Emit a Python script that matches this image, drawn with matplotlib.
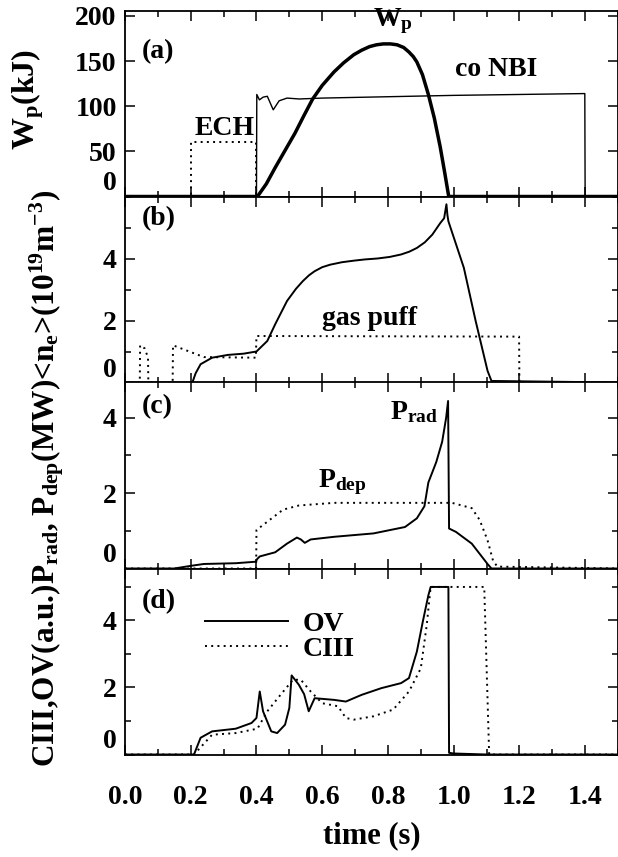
import matplotlib
matplotlib.use('Agg')
import matplotlib.pyplot as plt
from matplotlib.ticker import MultipleLocator

# (a) stored energy, NBI and ECH
t_wp = [0, 0.40, 0.403, 0.43, 0.457, 0.487, 0.517, 0.545, 0.571, 0.60, 0.636, 0.665,
        0.696, 0.72, 0.744, 0.765, 0.786, 0.808, 0.828, 0.848, 0.864, 0.877, 0.888,
        0.905, 0.923, 0.941, 0.959, 0.972, 0.985, 1.5]
wp = [0, 0, 0, 14, 32, 51, 70, 90, 108, 123, 138, 148, 157, 162, 166, 168, 169, 169,
      168, 165, 160, 155, 149, 135, 113, 87, 55, 28, 0, 0]

t_nbi = [0, 0.40, 0.401, 0.409, 0.42, 0.433, 0.451, 0.469, 0.493, 0.53, 0.6, 1.0, 1.399, 1.40, 1.5]
nbi = [0, 0, 113, 107, 110, 111, 96, 106, 109, 108, 109, 112, 114, 0, 0]

t_ech = [0, 0.2, 0.2, 0.4, 0.4, 1.5]
ech = [0, 0, 60, 60, 0, 0]

# (b) line density and gas puff
t_ne = [0, 0.205, 0.215, 0.23, 0.265, 0.313, 0.361, 0.40, 0.433, 0.457, 0.493, 0.52,
        0.541, 0.56, 0.577, 0.6, 0.624, 0.66, 0.696, 0.73, 0.768, 0.805, 0.84, 0.865,
        0.888, 0.912, 0.935, 0.959, 0.971, 0.978, 0.981, 0.984, 1.031, 1.067, 1.103,
        1.115, 1.5]
ne = [0, 0, 0.3, 0.59, 0.80, 0.89, 0.93, 1.0, 1.34, 1.88, 2.63, 3.02, 3.27, 3.46,
      3.59, 3.72, 3.80, 3.88, 3.93, 3.97, 4.0, 4.05, 4.13, 4.22, 4.34, 4.52, 4.77,
      5.14, 5.3, 5.75, 5.4, 5.2, 3.7, 1.98, 0.38, 0.05, 0]

t_gas = [0, 0.045, 0.046, 0.06, 0.07, 0.071, 0.145, 0.146, 0.24, 0.398, 0.40,
         1.199, 1.20, 1.5]
gas = [0, 0, 1.2, 1.1, 0.8, 0, 0, 1.2, 0.82, 0.8, 1.5, 1.48, 0, 0]

# (c) radiated and deposited power
t_rad = [0, 0.15, 0.2, 0.24, 0.337, 0.398, 0.402, 0.41, 0.457, 0.493, 0.523, 0.535,
         0.547, 0.565, 0.636, 0.756, 0.852, 0.888, 0.911, 0.923, 0.947, 0.965, 0.977,
         0.983, 0.986, 1.007, 1.055, 1.103, 1.115, 1.5]
prad = [0, 0, 0.07, 0.12, 0.14, 0.18, 0.25, 0.32, 0.43, 0.66, 0.82, 0.77, 0.68, 0.77,
        0.84, 0.93, 1.1, 1.33, 1.65, 2.28, 2.82, 3.36, 3.99, 4.44, 1.06, 0.97, 0.66,
        0.12, 0, 0]

t_dep = [0, 0.399, 0.40, 0.433, 0.481, 0.529, 0.636, 0.816, 0.995, 1.055, 1.079,
         1.103, 1.12, 1.133, 1.5]
pdep = [0, 0, 1.02, 1.24, 1.56, 1.67, 1.74, 1.74, 1.74, 1.6, 1.29, 0.75, 0.2, 0.05, 0]

# (d) impurity lines
t_ov = [0, 0.21, 0.23, 0.265, 0.337, 0.385, 0.40, 0.41, 0.42, 0.445, 0.463, 0.487,
        0.50, 0.507, 0.529, 0.545, 0.559, 0.577, 0.636, 0.672, 0.72, 0.78, 0.84,
        0.864, 0.888, 0.906, 0.923, 0.93, 0.984, 0.986, 1.0, 1.1, 1.5]
ov = [0, 0, 0.5, 0.69, 0.77, 0.94, 1.09, 1.88, 1.29, 0.69, 0.64, 0.89, 1.39, 2.36,
      2.08, 1.8, 1.29, 1.68, 1.63, 1.58, 1.78, 1.98, 2.13, 2.28, 3.07, 3.96, 4.75,
      5.0, 5.0, 0.05, 0.03, 0, 0]

t_c3 = [0, 0.21, 0.265, 0.337, 0.403, 0.433, 0.469, 0.511, 0.535, 0.565, 0.6, 0.648,
        0.672, 0.696, 0.756, 0.816, 0.864, 0.9, 0.918, 0.93, 1.093, 1.108, 1.5]
c3 = [0, 0, 0.59, 0.64, 0.77, 1.29, 1.73, 2.23, 2.23, 1.88, 1.53, 1.44, 1.09, 1.04,
      1.14, 1.34, 1.88, 2.57, 3.86, 5.0, 5.0, 0, 0]

plt.rcParams['font.family'] = 'Liberation Serif'
plt.rcParams['font.weight'] = 'bold'
plt.rcParams['axes.labelweight'] = 'bold'
plt.rcParams['mathtext.fontset'] = 'custom'
plt.rcParams['mathtext.rm'] = 'Liberation Serif:bold'
plt.rcParams['mathtext.default'] = 'rm'

FS = 20
dot = (0, (1, 2.2))

fig = plt.figure(figsize=(6.18, 8.57), dpi=100)
H = 857.0
left = 125 / 618.0
width = 1.0 - left
tops = [10.5, 196.5, 382.5, 568.5]
ph = 186.0
axes = [fig.add_axes([left, 1 - (tp + ph) / H, width, ph / H]) for tp in tops]
ax_a, ax_b, ax_c, ax_d = axes

ax_a.plot(t_ech, ech, color='black', lw=1.4, ls=dot)
ax_a.plot(t_nbi, nbi, color='black', lw=1.0)
ax_a.plot(t_wp, wp, color='black', lw=2.5)
ax_a.set_ylim(0, 206)
ax_a.set_yticks([0, 50, 100, 150, 200])
ax_a.text(0.05, 160, '(a)', fontsize=FS, va='center')
ax_a.text(0.816, 194, r'W$_\mathrm{p}$', fontsize=FS, ha='center', va='center')
ax_a.text(1.13, 141, 'co NBI', fontsize=FS, ha='center', va='center')
ax_a.text(0.304, 75, 'ECH', fontsize=FS, ha='center', va='center')
ax_a.set_ylabel(r'W$_\mathrm{p}$(kJ)', fontsize=23)

ax_b.plot(t_gas, gas, color='black', lw=1.4, ls=dot)
ax_b.plot(t_ne, ne, color='black', lw=1.4)
ax_b.set_ylim(0, 6)
ax_b.set_yticks([0, 2, 4])
ax_b.yaxis.set_minor_locator(MultipleLocator(1))
ax_b.text(0.05, 5.3, '(b)', fontsize=FS, va='center')
ax_b.text(0.744, 2.05, 'gas puff', fontsize=FS, ha='center', va='center')

ax_c.plot(t_dep, pdep, color='black', lw=1.4, ls=dot)
ax_c.plot(t_rad, prad, color='black', lw=1.4)
ax_c.set_ylim(0, 4.93)
ax_c.set_yticks([0, 2, 4])
ax_c.yaxis.set_minor_locator(MultipleLocator(1))
ax_c.text(0.05, 4.3, '(c)', fontsize=FS, va='center')
ax_c.text(0.88, 4.15, r'P$_\mathrm{rad}$', fontsize=FS, ha='center', va='center')
ax_c.text(0.66, 2.3, r'P$_\mathrm{dep}$', fontsize=FS, ha='center', va='center')

ax_d.plot(t_ov, ov, color='black', lw=1.4, label='OV')
ax_d.plot(t_c3, c3, color='black', lw=1.4, ls=dot, label='CIII')
ax_d.set_ylim(0, 5.55)
ax_d.set_yticks([0, 2, 4])
ax_d.yaxis.set_minor_locator(MultipleLocator(1))
ax_d.text(0.05, 4.55, '(d)', fontsize=FS, va='center')
ax_d.legend(loc='upper left', bbox_to_anchor=(0.14, 0.83), frameon=False,
            fontsize=FS, handlelength=3.0, handletextpad=0.5, labelspacing=0.0,
            borderaxespad=0)
ax_d.set_xlabel('time (s)', fontsize=22, labelpad=8)

fig.text(47 / 618.0, 1 - 478 / H,
         r'CIII,OV(a.u.)P$_\mathrm{rad}$, P$_\mathrm{dep}$(MW)<n$_\mathrm{e}$>(10$^{19}$m$^{-3}$)',
         rotation=90, fontsize=22.5, ha='center', va='center')

for ax in axes:
    ax.set_xlim(0, 1.5)
    ax.xaxis.set_major_locator(MultipleLocator(0.2))
    ax.xaxis.set_minor_locator(MultipleLocator(0.1))
    ax.tick_params(which='both', direction='in', top=True, right=True, width=1.1,
                   labelsize=FS)
    ax.tick_params(which='major', length=7)
    ax.tick_params(which='minor', length=4)
    ax.tick_params(axis='y', pad=6)
    for s in ax.spines.values():
        s.set_linewidth(1.3)
    ax.yaxis.get_major_ticks()[0].label1.set_verticalalignment('bottom')
    if ax is not ax_d:
        ax.tick_params(axis='x', labelbottom=False)

ax_d.tick_params(axis='x', pad=22)
ax_a.yaxis.set_label_coords(-0.16, 0.52)

fig.savefig('out.png', dpi=100)
